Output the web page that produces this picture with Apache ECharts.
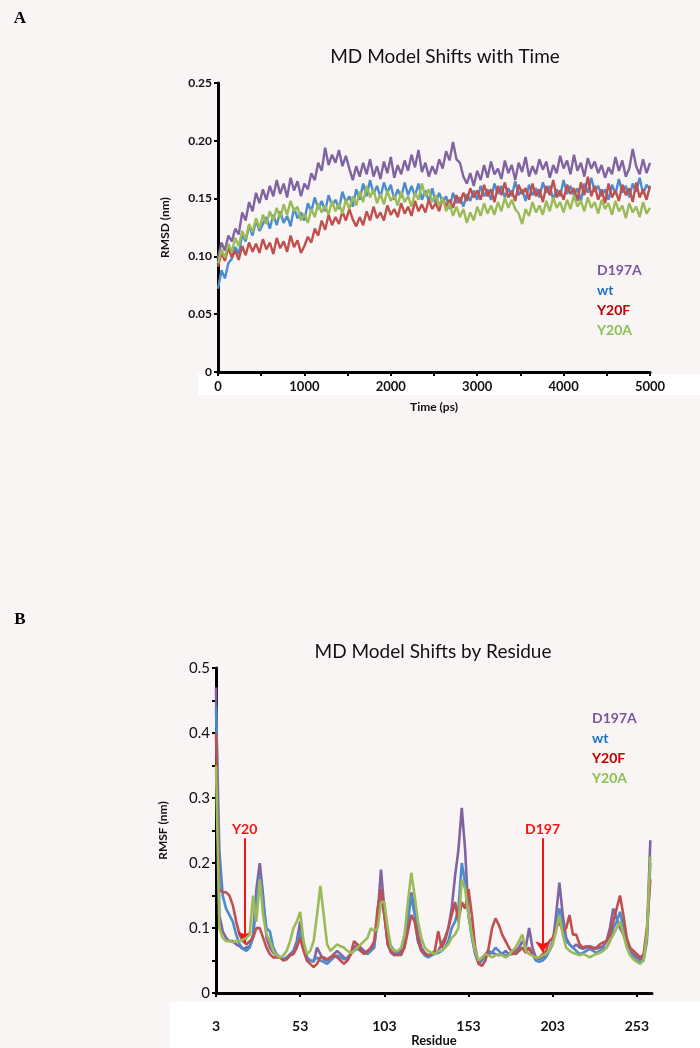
<!DOCTYPE html>
<html>
<head>
<meta charset="utf-8">
<script src="https://cdn.jsdelivr.net/npm/echarts@6/dist/echarts.min.js"></script>
<style>
html,body{margin:0;padding:0;background:#f9f5f4;}
#chart{width:700px;height:1048px;}
</style>
</head>
<body>
<div id="chart"></div>
<script>
// ---------- Panel A: RMSD vs time ----------
const timePs = [0,40,80,120,160,200,240,280,320,360,400,440,480,520,560,600,640,680,720,760,800,840,880,920,960,1000,1040,1080,1120,1160,1200,1240,1280,1320,1360,1400,1440,1480,1520,1560,1600,1640,1680,1720,1760,1800,1840,1880,1920,1960,2000,2040,2080,2120,2160,2200,2240,2280,2320,2360,2400,2440,2480,2520,2560,2600,2640,2680,2720,2760,2800,2840,2880,2920,2960,3000,3040,3080,3120,3160,3200,3240,3280,3320,3360,3400,3440,3480,3520,3560,3600,3640,3680,3720,3760,3800,3840,3880,3920,3960,4000,4040,4080,4120,4160,4200,4240,4280,4320,4360,4400,4440,4480,4520,4560,4600,4640,4680,4720,4760,4800,4840,4880,4920,4960,5000];

const rmsdD197A = [0.098,0.112,0.105,0.118,0.113,0.124,0.119,0.138,0.131,0.147,0.139,0.155,0.146,0.158,0.149,0.161,0.152,0.166,0.154,0.163,0.151,0.168,0.157,0.165,0.152,0.163,0.158,0.172,0.166,0.181,0.174,0.194,0.179,0.188,0.181,0.192,0.178,0.187,0.176,0.166,0.178,0.169,0.181,0.171,0.184,0.169,0.178,0.167,0.182,0.172,0.186,0.168,0.179,0.171,0.183,0.174,0.188,0.177,0.192,0.173,0.181,0.169,0.178,0.171,0.184,0.176,0.191,0.183,0.199,0.184,0.181,0.169,0.163,0.172,0.161,0.174,0.166,0.179,0.168,0.182,0.171,0.176,0.167,0.183,0.172,0.179,0.166,0.181,0.173,0.186,0.169,0.178,0.171,0.184,0.175,0.182,0.168,0.179,0.172,0.187,0.176,0.183,0.171,0.188,0.174,0.181,0.169,0.185,0.176,0.182,0.172,0.179,0.168,0.177,0.171,0.186,0.174,0.183,0.169,0.176,0.193,0.178,0.171,0.184,0.172,0.181];

const rmsdWt = [0.072,0.088,0.081,0.094,0.098,0.108,0.102,0.119,0.113,0.127,0.118,0.131,0.122,0.128,0.134,0.124,0.136,0.127,0.139,0.129,0.135,0.126,0.142,0.133,0.138,0.131,0.146,0.139,0.151,0.141,0.148,0.139,0.153,0.144,0.149,0.141,0.156,0.147,0.152,0.143,0.158,0.149,0.163,0.152,0.166,0.154,0.161,0.151,0.164,0.155,0.162,0.149,0.158,0.151,0.164,0.153,0.161,0.152,0.163,0.149,0.157,0.148,0.159,0.146,0.155,0.147,0.152,0.141,0.155,0.146,0.151,0.143,0.154,0.148,0.157,0.149,0.161,0.152,0.158,0.149,0.163,0.154,0.161,0.151,0.159,0.152,0.165,0.153,0.158,0.148,0.162,0.153,0.159,0.151,0.164,0.155,0.161,0.149,0.158,0.152,0.166,0.154,0.161,0.153,0.159,0.148,0.163,0.155,0.168,0.156,0.161,0.152,0.158,0.149,0.162,0.154,0.167,0.155,0.161,0.151,0.163,0.156,0.168,0.154,0.162,0.158];

const rmsdY20F = [0.091,0.103,0.096,0.108,0.099,0.105,0.097,0.109,0.101,0.112,0.104,0.111,0.103,0.115,0.106,0.112,0.102,0.116,0.107,0.113,0.104,0.118,0.108,0.114,0.103,0.109,0.117,0.112,0.124,0.118,0.131,0.123,0.136,0.127,0.134,0.128,0.139,0.131,0.141,0.132,0.126,0.134,0.127,0.139,0.131,0.143,0.133,0.138,0.131,0.144,0.136,0.141,0.134,0.146,0.137,0.143,0.135,0.148,0.139,0.145,0.138,0.149,0.141,0.146,0.139,0.151,0.143,0.149,0.142,0.153,0.146,0.155,0.148,0.159,0.151,0.157,0.149,0.162,0.152,0.158,0.147,0.161,0.153,0.164,0.151,0.157,0.148,0.162,0.154,0.159,0.149,0.163,0.152,0.158,0.147,0.161,0.153,0.166,0.151,0.157,0.149,0.162,0.154,0.159,0.148,0.164,0.153,0.169,0.152,0.161,0.149,0.158,0.146,0.163,0.151,0.157,0.148,0.162,0.153,0.159,0.147,0.164,0.151,0.158,0.149,0.161];

const rmsdY20A = [0.094,0.106,0.099,0.111,0.104,0.116,0.109,0.122,0.115,0.128,0.121,0.133,0.124,0.136,0.128,0.139,0.131,0.142,0.133,0.145,0.136,0.148,0.139,0.143,0.131,0.137,0.129,0.141,0.134,0.146,0.138,0.144,0.136,0.148,0.139,0.146,0.137,0.149,0.141,0.152,0.144,0.156,0.147,0.161,0.151,0.158,0.146,0.154,0.145,0.157,0.148,0.153,0.144,0.156,0.147,0.152,0.143,0.155,0.149,0.163,0.152,0.158,0.147,0.153,0.144,0.151,0.139,0.146,0.135,0.143,0.134,0.141,0.129,0.138,0.131,0.143,0.135,0.146,0.137,0.144,0.136,0.147,0.139,0.151,0.142,0.149,0.141,0.137,0.128,0.141,0.135,0.147,0.138,0.144,0.136,0.148,0.139,0.151,0.142,0.147,0.138,0.149,0.141,0.153,0.143,0.148,0.139,0.151,0.142,0.147,0.137,0.149,0.141,0.146,0.136,0.148,0.139,0.144,0.133,0.146,0.138,0.143,0.134,0.147,0.137,0.142];

const timeTicks = [0,1000,2000,3000,4000,5000];

// ---------- Panel B: RMSF by residue ----------
const residues = [3,5,7,9,11,13,15,17,19,21,23,25,27,29,31,33,35,37,39,41,43,45,47,49,51,53,55,57,59,61,63,65,67,69,71,73,75,77,79,81,83,85,87,89,91,93,95,97,99,101,103,105,107,109,111,113,115,117,119,121,123,125,127,129,131,133,135,137,139,141,143,145,147,149,151,153,155,157,159,161,163,165,167,169,171,173,175,177,179,181,183,185,187,189,191,193,195,197,199,201,203,205,207,209,211,213,215,217,219,221,223,225,227,229,231,233,235,237,239,241,243,245,247,249,251,253,255,257,259,261];

const rmsfD197A = [0.47,0.12,0.095,0.085,0.08,0.08,0.075,0.072,0.068,0.07,0.072,0.09,0.16,0.2,0.15,0.085,0.07,0.062,0.058,0.055,0.052,0.055,0.06,0.065,0.08,0.11,0.075,0.055,0.05,0.048,0.07,0.06,0.052,0.05,0.055,0.06,0.065,0.06,0.055,0.05,0.06,0.07,0.075,0.07,0.065,0.062,0.065,0.07,0.12,0.19,0.13,0.075,0.062,0.058,0.06,0.065,0.08,0.12,0.155,0.13,0.09,0.07,0.062,0.058,0.06,0.062,0.065,0.075,0.085,0.1,0.13,0.18,0.22,0.285,0.22,0.12,0.09,0.06,0.045,0.05,0.058,0.06,0.062,0.06,0.058,0.06,0.065,0.06,0.06,0.065,0.07,0.08,0.07,0.1,0.07,0.055,0.052,0.055,0.058,0.065,0.075,0.12,0.17,0.12,0.085,0.075,0.07,0.075,0.07,0.068,0.07,0.072,0.07,0.068,0.07,0.072,0.08,0.1,0.13,0.115,0.1,0.09,0.075,0.065,0.06,0.055,0.052,0.055,0.09,0.235];

const rmsfWt = [0.44,0.22,0.15,0.13,0.12,0.11,0.09,0.075,0.068,0.065,0.07,0.085,0.14,0.18,0.14,0.1,0.095,0.07,0.06,0.055,0.052,0.055,0.058,0.062,0.075,0.095,0.07,0.055,0.05,0.05,0.055,0.05,0.048,0.045,0.05,0.055,0.058,0.055,0.052,0.055,0.06,0.065,0.068,0.065,0.062,0.06,0.065,0.075,0.11,0.15,0.12,0.08,0.072,0.065,0.06,0.058,0.075,0.11,0.15,0.12,0.08,0.065,0.058,0.055,0.058,0.06,0.062,0.065,0.07,0.08,0.1,0.11,0.13,0.2,0.17,0.12,0.085,0.06,0.048,0.052,0.06,0.065,0.062,0.07,0.065,0.06,0.058,0.06,0.062,0.06,0.065,0.07,0.065,0.07,0.06,0.05,0.048,0.05,0.055,0.065,0.08,0.1,0.13,0.1,0.08,0.075,0.07,0.065,0.06,0.062,0.065,0.068,0.065,0.062,0.065,0.068,0.07,0.08,0.1,0.11,0.125,0.1,0.075,0.06,0.055,0.05,0.048,0.05,0.08,0.2];

const rmsfY20F = [0.4,0.16,0.155,0.155,0.15,0.135,0.11,0.09,0.08,0.075,0.08,0.085,0.1,0.1,0.085,0.07,0.06,0.055,0.055,0.055,0.05,0.052,0.058,0.06,0.07,0.085,0.065,0.05,0.045,0.04,0.045,0.055,0.055,0.052,0.055,0.058,0.055,0.05,0.045,0.05,0.06,0.08,0.075,0.065,0.06,0.065,0.07,0.08,0.13,0.16,0.12,0.075,0.065,0.06,0.058,0.06,0.07,0.095,0.12,0.11,0.08,0.065,0.06,0.058,0.06,0.065,0.095,0.07,0.08,0.1,0.12,0.14,0.11,0.14,0.13,0.16,0.12,0.07,0.045,0.042,0.05,0.07,0.1,0.115,0.105,0.09,0.08,0.07,0.062,0.06,0.065,0.07,0.062,0.07,0.058,0.055,0.055,0.06,0.065,0.08,0.085,0.1,0.11,0.095,0.1,0.12,0.09,0.09,0.075,0.07,0.072,0.07,0.068,0.07,0.075,0.078,0.08,0.09,0.11,0.13,0.15,0.12,0.085,0.07,0.065,0.06,0.055,0.06,0.1,0.175];

const rmsfY20A = [0.35,0.1,0.085,0.08,0.08,0.078,0.08,0.08,0.082,0.085,0.09,0.15,0.11,0.175,0.12,0.09,0.08,0.065,0.058,0.055,0.058,0.065,0.08,0.1,0.11,0.125,0.08,0.06,0.065,0.08,0.12,0.165,0.12,0.075,0.065,0.07,0.075,0.072,0.07,0.065,0.062,0.065,0.07,0.075,0.08,0.085,0.1,0.095,0.1,0.14,0.14,0.1,0.07,0.065,0.065,0.07,0.09,0.14,0.185,0.15,0.11,0.085,0.07,0.065,0.062,0.06,0.065,0.065,0.07,0.075,0.085,0.09,0.1,0.175,0.16,0.12,0.09,0.065,0.05,0.055,0.06,0.058,0.055,0.058,0.06,0.058,0.055,0.058,0.065,0.07,0.08,0.09,0.065,0.06,0.058,0.055,0.055,0.058,0.06,0.065,0.075,0.095,0.12,0.09,0.07,0.065,0.062,0.06,0.058,0.06,0.058,0.055,0.058,0.06,0.062,0.065,0.07,0.08,0.09,0.1,0.11,0.09,0.07,0.058,0.052,0.048,0.045,0.05,0.09,0.21];

const residueTicks = [3,53,103,153,203,253];

const seriesNames = ['D197A','wt','Y20F','Y20A'];
const lineColors = ['#8064A2','#4A8CCF','#C0504D','#9BBB59'];
const legendColors = ['#7A569E','#1F72C0','#C00000','#8CC152'];

// annotations (residue, arrow top value, arrow tip value)
const annY20 = {label:'Y20', residue:20, top:0.238, tip:0.078};
const annD197 = {label:'D197', residue:197, top:0.238, tip:0.063};

// ---------- build ----------
const FONT = 'Lato';
const zip = (xs, ys) => xs.map((x, i) => [x, ys[i]]);
const rmsdData = [rmsdD197A, rmsdWt, rmsdY20F, rmsdY20A];
const rmsfData = [rmsfD197A, rmsfWt, rmsfY20F, rmsfY20A];

const series = [];
seriesNames.forEach((n, i) => {
  series.push({
    name: n, type: 'line', xAxisIndex: 0, yAxisIndex: 0,
    data: zip(timePs, rmsdData[i]), showSymbol: false, symbol: 'none',
    lineStyle: {color: lineColors[i], width: 2.4}, itemStyle: {color: lineColors[i]},
    z: 2 + i
  });
});
seriesNames.forEach((n, i) => {
  const s = {
    name: n, type: 'line', xAxisIndex: 1, yAxisIndex: 1,
    data: zip(residues, rmsfData[i]), showSymbol: false, symbol: 'none',
    lineStyle: {color: lineColors[i], width: 2.6}, itemStyle: {color: lineColors[i]},
    z: 2 + i
  };
  if (i === 3) {
    s.markLine = {
      silent: true, animation: false,
      symbol: ['none', 'arrow'], symbolSize: 11,
      lineStyle: {color: '#F41414', width: 2, type: 'solid'},
      label: {show: true, position: 'start', color: '#F41414', fontFamily: FONT, fontWeight: 'bold', fontSize: 14, distance: 2},
      data: [annY20, annD197].map(a => [
        {coord: [a.residue, a.top], label: {formatter: a.label}, symbol: 'none'},
        {coord: [a.residue, a.tip], symbol: 'arrow', symbolSize: 11}
      ])
    };
  }
  series.push(s);
});

const axisLine = {show: true, lineStyle: {color: '#000', width: 3}};
const tick = {show: true, inside: false, length: 4, lineStyle: {color: '#000', width: 2}};
const nameStyle = {fontFamily: FONT, fontWeight: 'bold', fontSize: 12, color: '#111'};

const legendBase = {
  orient: 'vertical', itemWidth: 0, itemHeight: 0, itemGap: 6, selectedMode: false,
  icon: 'rect', textStyle: {fontFamily: FONT, fontWeight: 'bold', fontSize: 14}, padding: 0,
  data: seriesNames.map((n, i) => ({name: n, textStyle: {color: legendColors[i]}}))
};

const option = {
  backgroundColor: '#f9f5f4',
  animation: false,
  graphic: [
    {type: 'rect', z: -1, shape: {x: 198, y: 374, width: 502, height: 21}, style: {fill: '#ffffff'}},
    {type: 'rect', z: -1, shape: {x: 170, y: 1002, width: 530, height: 46}, style: {fill: '#ffffff'}},
    {type: 'text', x: 20, y: 19, style: {text: 'A', font: 'bold 17px "Liberation Serif"', fill: '#000', textAlign: 'center', textVerticalAlign: 'middle'}},
    {type: 'text', x: 20, y: 620, style: {text: 'B', font: 'bold 17px "Liberation Serif"', fill: '#000', textAlign: 'center', textVerticalAlign: 'middle'}},
    {type: 'text', x: 445, y: 57, style: {text: 'MD Model Shifts with Time', font: '19px Lato', fill: '#111', textAlign: 'center', textVerticalAlign: 'middle'}},
    {type: 'text', x: 433, y: 652, style: {text: 'MD Model Shifts by Residue', font: '19px Lato', fill: '#111', textAlign: 'center', textVerticalAlign: 'middle'}}
  ],
  legend: [
    Object.assign({}, legendBase, {left: 592, top: 263}),
    Object.assign({}, legendBase, {left: 587, top: 711})
  ],
  grid: [
    {left: 218, top: 83, width: 432, height: 289, containLabel: false},
    {left: 216, top: 668, width: 436, height: 328, containLabel: false}
  ],
  xAxis: [
    {
      gridIndex: 0, type: 'value', min: 0, max: 5000, interval: 500,
      axisLine: axisLine, axisTick: tick, splitLine: {show: false},
      axisLabel: {formatter: v => (timeTicks.indexOf(v) >= 0 ? String(v) : ''), fontFamily: FONT, fontWeight: 'bold', fontSize: 13, color: '#111', margin: 8},
      name: 'Time (ps)', nameLocation: 'middle', nameGap: 29, nameTextStyle: nameStyle
    },
    {
      gridIndex: 1, type: 'value', min: 3, max: 262,
      axisLine: axisLine, axisTick: Object.assign({}, tick, {customValues: residueTicks}), splitLine: {show: false},
      axisLabel: {customValues: residueTicks, fontFamily: FONT, fontWeight: 'bold', fontSize: 14, color: '#111', margin: 26},
      name: 'Residue', nameLocation: 'middle', nameGap: 30, nameTextStyle: Object.assign({}, nameStyle, {fontSize: 13})
    }
  ],
  yAxis: [
    {
      gridIndex: 0, type: 'value', min: 0, max: 0.25, interval: 0.05,
      axisLine: axisLine, axisTick: tick, splitLine: {show: false},
      axisLabel: {formatter: v => (v === 0 ? '0' : v.toFixed(2)), fontFamily: FONT, fontWeight: 'bold', fontSize: 12, color: '#111', margin: 6},
      name: 'RMSD (nm)', nameLocation: 'middle', nameGap: 47, nameTextStyle: nameStyle
    },
    {
      gridIndex: 1, type: 'value', min: 0, max: 0.5, interval: 0.05,
      axisLine: axisLine, axisTick: tick, splitLine: {show: false},
      axisLabel: {
        formatter: v => {
          const k = Math.round(v * 20);
          if (k % 2 !== 0) return '';
          return k === 0 ? '0' : (k / 20).toFixed(1);
        },
        fontFamily: FONT, fontSize: 15, color: '#111', margin: 6
      },
      name: 'RMSF (nm)', nameLocation: 'middle', nameGap: 47, nameTextStyle: nameStyle
    }
  ],
  series: series
};

const chart = echarts.init(document.getElementById('chart'), null, {renderer: 'canvas'});
chart.setOption(option);
</script>
</body>
</html>
